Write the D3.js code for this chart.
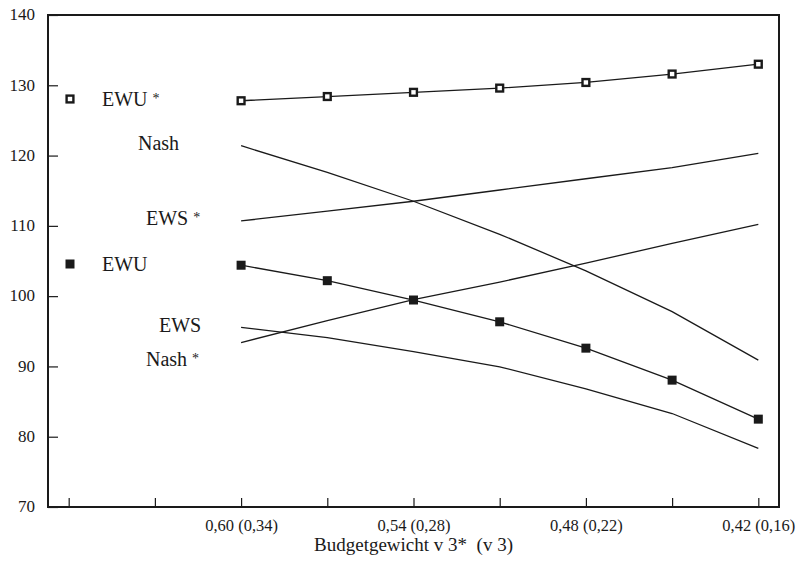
<!DOCTYPE html>
<html>
<head>
<meta charset="utf-8">
<script src="https://cdn.jsdelivr.net/npm/d3@7/dist/d3.min.js"></script>
<style>
  html, body { margin: 0; padding: 0; background: #fff; }
  svg text { font-family: "Liberation Serif", "Times New Roman", serif; fill: #1a1a1a; }
</style>
</head>
<body>
<svg id="chart" width="800" height="561"></svg>
<script>
// ---- data ----
const budgetWeights = [0.60, 0.57, 0.54, 0.51, 0.48, 0.45, 0.42];
const ewuStar  = [127.8, 128.4, 129.0, 129.6, 130.4, 131.6, 133.0];
const nash     = [121.4, 117.6, 113.5, 108.8, 103.6, 97.8, 90.9];
const ewsStar  = [110.7, 112.1, 113.5, 115.1, 116.7, 118.3, 120.3];
const ewu      = [104.4, 102.2, 99.45, 96.35, 92.6, 88.05, 82.5];
const ews      = [93.4, 96.5, 99.5, 102.0, 104.7, 107.5, 110.2];
const nashStar = [95.55, 94.1, 92.1, 89.95, 86.8, 83.3, 78.35];
const xTickValues = [0.66, 0.63, 0.60, 0.57, 0.54, 0.51, 0.48, 0.45, 0.42];
const xTickLabels = ["", "", "0,60 (0,34)", "", "0,54 (0,28)", "", "0,48 (0,22)", "", "0,42 (0,16)"];
const yTickValues = [70, 80, 90, 100, 110, 120, 130, 140];
const xTitle = "Budgetgewicht v 3*  (v 3)";

// ---- layout ----
const svg = d3.select("#chart");
const mLeft = 48, mRight = 779, mTop = 15, mBottom = 507;
const ink = "#1a1a1a";

const x = d3.scaleLinear().domain([0.6672, 0.4128]).range([mLeft, mRight]);
const y = d3.scaleLinear().domain([70, 140]).range([mBottom, mTop]);

// axes
const yAxis = d3.axisLeft(y).tickValues(yTickValues).tickSize(-10).tickPadding(13)
  .tickFormat(d3.format("d"));
const gy = svg.append("g").attr("transform", `translate(${mLeft},0)`).call(yAxis);
gy.select(".domain").remove();
gy.selectAll("line").attr("stroke", ink).attr("stroke-width", 1.2);
gy.selectAll("text").attr("font-size", 17).attr("dy", "0.28em")
  .attr("font-family", "Liberation Serif").attr("fill", ink);

const xAxis = d3.axisBottom(x).tickValues(xTickValues).tickSize(-9).tickPadding(12)
  .tickFormat((d, i) => xTickLabels[i]);
const gx = svg.append("g").attr("transform", `translate(0,${mBottom})`).call(xAxis);
gx.select(".domain").remove();
gx.selectAll("line").attr("stroke", ink).attr("stroke-width", 1.2);
gx.selectAll("text").attr("font-size", 16.5)
  .attr("font-family", "Liberation Serif").attr("fill", ink);

// frame
svg.append("rect").attr("x", mLeft).attr("y", mTop)
  .attr("width", mRight - mLeft).attr("height", mBottom - mTop)
  .attr("fill", "none").attr("stroke", ink).attr("stroke-width", 2);

// x title
svg.append("text").attr("x", (mLeft + mRight) / 2).attr("y", 551)
  .attr("text-anchor", "middle").attr("font-size", 19)
  .attr("xml:space", "preserve").text(xTitle);

// lines
const series = [ewuStar, nash, ewsStar, ewu, ews, nashStar];
const line = d3.line().x((d, i) => x(budgetWeights[i])).y(d => y(d));
series.forEach(s => {
  svg.append("path").datum(s).attr("d", line)
    .attr("fill", "none").attr("stroke", ink).attr("stroke-width", 1.3);
});

// markers
const ms = 9;
svg.append("g").selectAll("rect").data(ewuStar).join("rect")
  .attr("x", (d, i) => x(budgetWeights[i]) - ms / 2 + 1.1)
  .attr("y", d => y(d) - ms / 2 + 1.1)
  .attr("width", ms - 2.2).attr("height", ms - 2.2)
  .attr("fill", "#fff").attr("stroke", ink).attr("stroke-width", 2.4);
svg.append("g").selectAll("rect").data(ewu).join("rect")
  .attr("x", (d, i) => x(budgetWeights[i]) - ms / 2)
  .attr("y", d => y(d) - ms / 2)
  .attr("width", ms).attr("height", ms).attr("fill", ink);

// legend / series labels
svg.append("rect").attr("x", 70 - ms / 2 + 1.1).attr("y", 99 - ms / 2 + 1.1)
  .attr("width", ms - 2.2).attr("height", ms - 2.2)
  .attr("fill", "#fff").attr("stroke", ink).attr("stroke-width", 2.4);
svg.append("rect").attr("x", 70 - ms / 2).attr("y", 264 - ms / 2)
  .attr("width", ms).attr("height", ms).attr("fill", ink);

const labels = [
  { t: "EWU", star: true, x: 102, y: 106 },
  { t: "Nash", star: false, x: 138, y: 150 },
  { t: "EWS", star: true, x: 146, y: 225 },
  { t: "EWU", star: false, x: 102, y: 271 },
  { t: "EWS", star: false, x: 159, y: 332 },
  { t: "Nash", star: true, x: 146, y: 366 }
];
labels.forEach(l => {
  const t = svg.append("text").attr("x", l.x).attr("y", l.y).attr("font-size", 20);
  t.append("tspan").text(l.t);
  if (l.star) t.append("tspan").attr("dx", 5).attr("dy", -3).attr("font-size", 14).text("*");
});
</script>
</body>
</html>
